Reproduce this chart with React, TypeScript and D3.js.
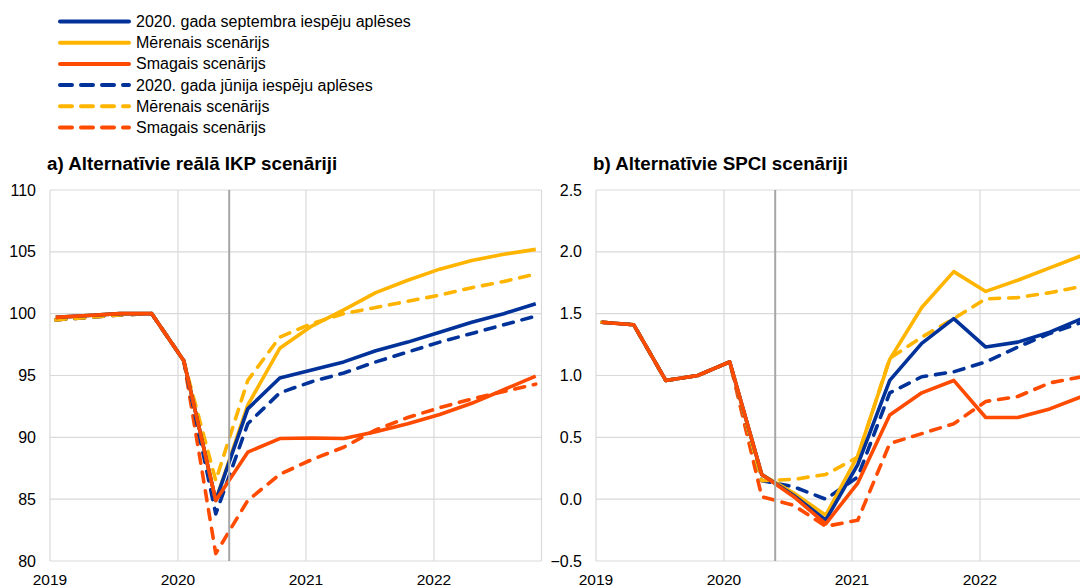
import React from 'react';
import * as d3 from 'd3';

const quarters = ['2019Q1','2019Q2','2019Q3','2019Q4','2020Q1','2020Q2','2020Q3','2020Q4','2021Q1','2021Q2','2021Q3','2021Q4','2022Q1','2022Q2','2022Q3','2022Q4'];

const gdpSepBase = [99.7, 99.85, 100.0, 100.0, 96.2, 84.9, 92.3, 94.8, 95.45, 96.1, 97.0, 97.7, 98.5, 99.3, 100.0, 100.8];
const gdpSepMild = [99.7, 99.85, 100.0, 100.0, 96.2, 84.9, 92.6, 97.2, 99.0, 100.3, 101.7, 102.7, 103.6, 104.3, 104.8, 105.2];
const gdpSepSevere = [99.7, 99.85, 100.0, 100.0, 96.2, 84.9, 88.8, 89.9, 89.95, 89.9, 90.45, 91.1, 91.85, 92.75, 93.85, 94.95];
const gdpJunBase = [99.5, 99.7, 99.9, 100.0, 96.2, 83.8, 91.1, 93.6, 94.5, 95.2, 96.1, 96.9, 97.7, 98.4, 99.1, 99.8];
const gdpJunMild = [99.5, 99.7, 99.9, 100.0, 96.2, 86.5, 94.6, 98.1, 99.2, 100.0, 100.5, 101.0, 101.5, 102.1, 102.6, 103.2];
const gdpJunSevere = [99.5, 99.7, 99.9, 100.0, 96.2, 80.6, 84.9, 87.0, 88.2, 89.2, 90.6, 91.6, 92.4, 93.1, 93.7, 94.3];

const cpiSepBase = [1.43, 1.41, 0.96, 1.00, 1.11, 0.20, 0.03, -0.17, 0.28, 0.96, 1.26, 1.46, 1.23, 1.27, 1.35, 1.46];
const cpiSepMild = [1.43, 1.41, 0.96, 1.00, 1.11, 0.20, 0.05, -0.13, 0.35, 1.13, 1.55, 1.84, 1.68, 1.77, 1.87, 1.97];
const cpiSepSevere = [1.43, 1.41, 0.96, 1.00, 1.11, 0.20, 0.02, -0.20, 0.13, 0.68, 0.86, 0.96, 0.66, 0.66, 0.73, 0.83];
const cpiJunBase = [1.43, 1.41, 0.96, 1.00, 1.11, 0.15, 0.10, 0.00, 0.18, 0.86, 0.99, 1.03, 1.11, 1.23, 1.34, 1.43];
const cpiJunMild = [1.43, 1.41, 0.96, 1.00, 1.11, 0.15, 0.16, 0.20, 0.34, 1.14, 1.31, 1.46, 1.62, 1.63, 1.67, 1.72];
const cpiJunSevere = [1.43, 1.41, 0.96, 1.00, 1.11, 0.02, -0.05, -0.22, -0.17, 0.45, 0.53, 0.61, 0.79, 0.83, 0.94, 0.99];

const yearTicks = [2019, 2020, 2021, 2022];
const gdpTicks = [80, 85, 90, 95, 100, 105, 110];
const cpiTicks = [-0.5, 0.0, 0.5, 1.0, 1.5, 2.0, 2.5];

const legendLabels = [
  '2020. gada septembra iespēju aplēses',
  'Mērenais scenārijs',
  'Smagais scenārijs',
  '2020. gada jūnija iespēju aplēses',
  'Mērenais scenārijs',
  'Smagais scenārijs',
];

const BLUE = '#003299';
const YELLOW = '#ffb400';
const ORANGE = '#ff4b00';
const FONT = '"Liberation Sans", Arial, sans-serif';
const DASH = '10 9';
const LW = 3.6;

const legendStyles = [
  { color: BLUE, dashed: false },
  { color: YELLOW, dashed: false },
  { color: ORANGE, dashed: false },
  { color: BLUE, dashed: true },
  { color: YELLOW, dashed: true },
  { color: ORANGE, dashed: true },
];

const qTime = (q: string) => {
  const y = +q.slice(0, 4);
  const n = +q.slice(5) - 1;
  return y + 0.045 + n * 0.25;
};

const MARKER = 2020.4;

type PanelProps = {
  x0: number; title: string; ticks: number[]; domain: [number, number];
  fmt: (v: number) => string; series: { values: number[]; color: string; dashed: boolean }[];
};

function Panel({ x0, title, ticks, domain, fmt, series }: PanelProps) {
  const x = d3.scaleLinear().domain([2019, 2022.84]).range([x0, x0 + 491.5]);
  const y = d3.scaleLinear().domain(domain).range([561, 190]);
  const line = d3.line<number>().x((_, i) => x(qTime(quarters[i]))).y((v) => y(v));
  const [xl, xr] = x.range();
  return (
    <g>
      <text x={x0 - 3} y={170} fontFamily={FONT} fontWeight="bold" fontSize={18.8} fill="#000">{title}</text>
      {ticks.map((t) => (
        <line key={'h' + t} x1={xl} x2={xr} y1={y(t)} y2={y(t)} stroke="#d9d9d9" strokeWidth={1.2} />
      ))}
      {yearTicks.map((t) => (
        <line key={'v' + t} x1={x(t)} x2={x(t)} y1={190} y2={561} stroke="#d9d9d9" strokeWidth={1.2} />
      ))}
      <line x1={xr} x2={xr} y1={190} y2={561} stroke="#d9d9d9" strokeWidth={1.2} />
      {ticks.map((t) => (
        <text key={'yl' + t} x={x0 - 14} y={y(t) + 5.5} textAnchor="end" fontFamily={FONT} fontSize={16} fill="#000">{fmt(t)}</text>
      ))}
      {yearTicks.map((t) => (
        <text key={'xl' + t} x={x(t)} y={585} textAnchor="middle" fontFamily={FONT} fontSize={15.5} fill="#000">{t}</text>
      ))}
      {series.map((s, i) => (
        <path key={i} d={line(s.values) || ''} fill="none" stroke={s.color} strokeWidth={LW}
          strokeDasharray={s.dashed ? DASH : undefined} strokeLinecap={s.dashed ? 'round' : 'butt'} strokeLinejoin="round" />
      ))}
      <line x1={x(MARKER)} x2={x(MARKER)} y1={190} y2={561} stroke="#a6a6a6" strokeWidth={2} />
    </g>
  );
}

export default function App() {
  const gdpSeries = [
    { values: gdpJunSevere, color: ORANGE, dashed: true },
    { values: gdpJunBase, color: BLUE, dashed: true },
    { values: gdpJunMild, color: YELLOW, dashed: true },
    { values: gdpSepMild, color: YELLOW, dashed: false },
    { values: gdpSepBase, color: BLUE, dashed: false },
    { values: gdpSepSevere, color: ORANGE, dashed: false },
  ];
  const cpiSeries = [
    { values: cpiJunSevere, color: ORANGE, dashed: true },
    { values: cpiJunBase, color: BLUE, dashed: true },
    { values: cpiJunMild, color: YELLOW, dashed: true },
    { values: cpiSepMild, color: YELLOW, dashed: false },
    { values: cpiSepBase, color: BLUE, dashed: false },
    { values: cpiSepSevere, color: ORANGE, dashed: false },
  ];
  const legendY = d3.scaleLinear().domain([0, 5]).range([21.5, 127.5]);
  return (
    <svg width={1080} height={587} style={{ position: 'absolute', left: 0, top: 0, background: '#fff' }}>
      <rect x={0} y={0} width={1080} height={587} fill="#fff" />
      {legendLabels.map((lab, i) => (
        <g key={i}>
          <line x1={60} x2={129} y1={legendY(i)} y2={legendY(i)} stroke={legendStyles[i].color} strokeWidth={LW + 0.4}
            strokeLinecap="round" strokeDasharray={legendStyles[i].dashed ? '12 9' : undefined} />
          <text x={136} y={legendY(i) + 5.5} fontFamily={FONT} fontSize={16} fill="#000">{lab}</text>
        </g>
      ))}
      <Panel x0={50} title="a) Alternatīvie reālā IKP scenāriji" ticks={gdpTicks} domain={[80, 110]}
        fmt={(v) => d3.format('d')(v)} series={gdpSeries} />
      <Panel x0={596} title="b) Alternatīvie SPCI scenāriji" ticks={cpiTicks} domain={[-0.5, 2.5]}
        fmt={(v) => d3.format('.1f')(v)} series={cpiSeries} />
    </svg>
  );
}
